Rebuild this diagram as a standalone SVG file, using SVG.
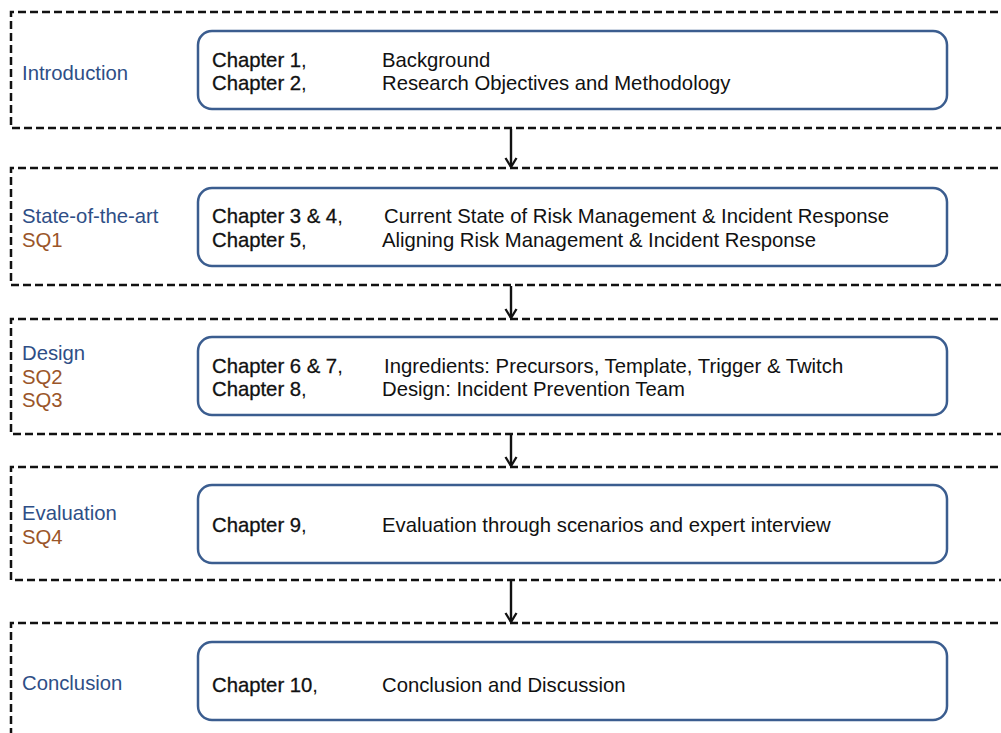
<svg xmlns="http://www.w3.org/2000/svg" width="1001" height="733" viewBox="0 0 1001 733">
  <style>
    .stage { fill: none; stroke: #111; stroke-width: 2.5; stroke-dasharray: 8 4; }
    .card { fill: #fff; stroke: #3b5d8f; stroke-width: 2.5; }
    text { font-family: "Liberation Sans", Arial, sans-serif; font-size: 20.3px; }
    .phase { fill: #2e4e86; }
    .sq { fill: #9a5529; }
    .ch { fill: #111; stroke: #111; stroke-width: 0.3; }
    .body { fill: #111; }
    .link { stroke: #111; stroke-width: 2.4; fill: none; }
  </style>
  <defs>
    <marker id="vhead" markerWidth="14" markerHeight="14" refX="11" refY="7" orient="auto" markerUnits="userSpaceOnUse">
      <path d="M2,1.5 L11,7 L2,12.5" fill="none" stroke="#111" stroke-width="2.3"/>
    </marker>
  </defs>
  <rect width="1001" height="733" fill="#fff"/>

  <g id="introduction">
    <path class="stage" d="M1010,12 H11 V128 H1010"/>
    <rect class="card" x="198" y="31" width="749" height="78" rx="14"/>
    <text class="phase" x="22" y="80">Introduction</text>
    <text class="ch" x="212" y="67">Chapter 1<tspan stroke="none">,</tspan></text>
    <text class="ch" x="212" y="90">Chapter 2<tspan stroke="none">,</tspan></text>
    <text class="body" x="382" y="67">Background</text>
    <text class="body" x="382" y="90">Research Objectives and Methodology</text>
  </g>

  <g id="state-of-the-art">
    <path class="stage" d="M1010,168 H11 V285 H1010"/>
    <rect class="card" x="198" y="188" width="749" height="78" rx="14"/>
    <text class="phase" x="22" y="223">State-of-the-art</text>
    <text class="sq" x="22" y="247">SQ1</text>
    <text class="ch" x="212" y="223">Chapter 3 &amp; 4<tspan stroke="none">,</tspan></text>
    <text class="ch" x="212" y="247">Chapter 5<tspan stroke="none">,</tspan></text>
    <text class="body" x="384" y="223">Current State of Risk Management &amp; Incident Response</text>
    <text class="body" x="382" y="247">Aligning Risk Management &amp; Incident Response</text>
  </g>

  <g id="design">
    <path class="stage" d="M1010,319 H11 V434 H1010"/>
    <rect class="card" x="198" y="337" width="749" height="78" rx="14"/>
    <text class="phase" x="22" y="360">Design</text>
    <text class="sq" x="22" y="384">SQ2</text>
    <text class="sq" x="22" y="407">SQ3</text>
    <text class="ch" x="212" y="373">Chapter 6 &amp; 7<tspan stroke="none">,</tspan></text>
    <text class="ch" x="212" y="396">Chapter 8<tspan stroke="none">,</tspan></text>
    <text class="body" x="384" y="373">Ingredients: Precursors, Template, Trigger &amp; Twitch</text>
    <text class="body" x="382" y="396">Design: Incident Prevention Team</text>
  </g>

  <g id="evaluation">
    <path class="stage" d="M1010,467 H11 V580 H1010"/>
    <rect class="card" x="198" y="485" width="749" height="78" rx="14"/>
    <text class="phase" x="22" y="520">Evaluation</text>
    <text class="sq" x="22" y="544">SQ4</text>
    <text class="ch" x="212" y="532">Chapter 9<tspan stroke="none">,</tspan></text>
    <text class="body" x="382" y="532">Evaluation through scenarios and expert interview</text>
  </g>

  <g id="conclusion">
    <path class="stage" d="M1010,623 H11 V740"/>
    <rect class="card" x="198" y="642" width="749" height="78" rx="14"/>
    <text class="phase" x="22" y="690">Conclusion</text>
    <text class="ch" x="212" y="692">Chapter 10<tspan stroke="none">,</tspan></text>
    <text class="body" x="382" y="692">Conclusion and Discussion</text>
  </g>

  <g id="connectors">
    <line class="link" x1="511" y1="129" x2="511" y2="167" marker-end="url(#vhead)"/>
    <line class="link" x1="511" y1="286" x2="511" y2="318" marker-end="url(#vhead)"/>
    <line class="link" x1="511" y1="435" x2="511" y2="466" marker-end="url(#vhead)"/>
    <line class="link" x1="511" y1="581" x2="511" y2="622" marker-end="url(#vhead)"/>
  </g>
</svg>
